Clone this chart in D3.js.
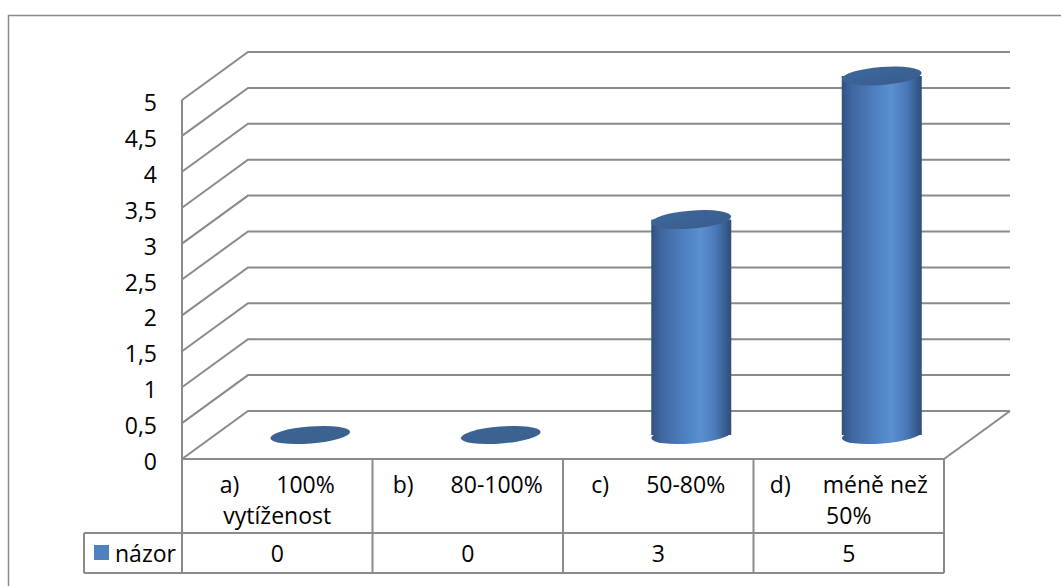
<!DOCTYPE html>
<html>
<head>
<meta charset="utf-8">
<script src="https://cdn.jsdelivr.net/npm/d3@7"></script>
<style>
  html, body { margin: 0; padding: 0; background: #fff; }
  svg { display: block; }
  text { font-family: "Open Sans", sans-serif; font-size: 23px; fill: #000; }
</style>
</head>
<body>
<svg id="chart" width="1061" height="586"></svg>
<script>
// Categories: the letter mark and the label lines shown in the data table header
const categoryMarks = ["a)", "b)", "c)", "d)"];
const categoryNames = [["100%", "vytíženost"], ["80-100%"], ["50-80%"], ["méně než", "50%"]];
const seriesName = "názor";
const values = [0, 0, 3, 5];
const yTicks = [0, 0.5, 1, 1.5, 2, 2.5, 3, 3.5, 4, 4.5, 5];
const yTickLabels = ["0", "0,5", "1", "1,5", "2", "2,5", "3", "3,5", "4", "4,5", "5"];

const svg = d3.select("#chart");

// Oblique projection of the floor/back wall
const depthX = 66, depthY = -48;
const gridColor = "#8a8a8a";

const y = d3.scaleLinear().domain([0, 5]).range([459, 100]);
const x = d3.scaleBand().domain(categoryMarks).range([182, 944]).padding(0);
const x0 = x.range()[0], x1 = x.range()[1];
const rowHeader = 533, rowValues = 573, legendLeft = 84;

// Gradients for the cylinders
const defs = svg.append("defs");
const bodyGrad = defs.append("linearGradient").attr("id", "cylBody")
  .attr("x1", "0").attr("x2", "1").attr("y1", "0").attr("y2", "0");
[[0, "#31527f"], [0.12, "#3f66a0"], [0.45, "#5083c4"], [0.62, "#5a8fd2"], [0.8, "#4b7aba"], [1, "#2e4d78"]]
  .forEach(([o, c]) => bodyGrad.append("stop").attr("offset", o).attr("stop-color", c));
const capGrad = defs.append("linearGradient").attr("id", "cylTop")
  .attr("x1", "0").attr("x2", "1").attr("y1", "0").attr("y2", "1");
[[0, "#3f679b"], [1, "#385d8d"]]
  .forEach(([o, c]) => capGrad.append("stop").attr("offset", o).attr("stop-color", c));

// Outer chart frame
svg.append("rect")
  .attr("x", 8.5).attr("y", 15.5).attr("width", 1100).attr("height", 620)
  .attr("fill", "none").attr("stroke", "#8a8a8a").attr("stroke-width", 1.5);

// Gridlines: side wall diagonal + back wall horizontal
const grid = svg.append("g").attr("fill", "none").attr("stroke", gridColor).attr("stroke-width", 2);
grid.selectAll("path.grid").data(yTicks).join("path")
  .attr("class", "grid")
  .attr("d", d => {
    const yy = y(d);
    return `M${x0},${yy}L${x0 + depthX},${yy + depthY}L${x1 + depthX},${yy + depthY}`;
  });
// Floor right edge and front vertical axis
grid.append("path").attr("d", `M${x1},${y(0)}L${x1 + depthX},${y(0) + depthY}`);
grid.append("path").attr("d", `M${x0},${y(5)}L${x0},${rowValues}`);

// Y tick labels
svg.append("g").selectAll("text").data(yTicks).join("text")
  .attr("x", 157).attr("y", d => y(d) + 11)
  .attr("text-anchor", "end")
  .text((d, i) => yTickLabels[i]);

// Cylinders
const rx = 40, ry = 8.5, tilt = -4.5;
const bars = svg.append("g").selectAll("g").data(values).join("g")
  .attr("transform", (d, i) => `translate(${x(categoryMarks[i]) + x.bandwidth() / 2 + depthX / 2},0)`);

bars.each(function (d) {
  const g = d3.select(this);
  const yb = y(0) + depthY / 2;
  const yt = y(d) + depthY / 2;
  if (d > 0) {
    g.append("ellipse").attr("cx", 0).attr("cy", yb).attr("rx", rx).attr("ry", ry)
      .attr("transform", `rotate(${tilt},0,${yb})`).attr("fill", "url(#cylBody)");
    g.append("rect").attr("x", -rx).attr("y", yt).attr("width", 2 * rx).attr("height", yb - yt)
      .attr("fill", "url(#cylBody)");
    g.append("ellipse").attr("cx", 0).attr("cy", yt).attr("rx", rx).attr("ry", ry + 0.5)
      .attr("transform", `rotate(${tilt},0,${yt})`).attr("fill", "url(#cylTop)");
  } else {
    g.append("ellipse").attr("cx", 0).attr("cy", yt).attr("rx", rx).attr("ry", ry)
      .attr("transform", `rotate(${tilt},0,${yt})`).attr("fill", "#3b6291");
  }
});

// Data table
const table = svg.append("g").attr("fill", "none").attr("stroke", gridColor).attr("stroke-width", 2);
table.append("path").attr("d", `M${x0},${y(0)}H${x1}`);
table.append("path").attr("d", `M${legendLeft},${rowHeader}H${x1}`);
table.append("path").attr("d", `M${legendLeft},${rowValues}H${x1}`);
table.append("path").attr("d", `M${legendLeft},${rowHeader}V${rowValues}`);
table.selectAll("path.col").data(categoryMarks).join("path")
  .attr("class", "col")
  .attr("d", d => `M${x(d) + x.bandwidth()},${y(0)}V${rowValues}`);

// Header labels
const header = svg.append("g");
categoryMarks.forEach((m, i) => {
  const cx = x(m) + x.bandwidth() / 2;
  const names = categoryNames[i];
  const gap = i === 3 ? 32 : 37;
  const t1 = header.append("text").attr("x", cx).attr("y", 493).attr("text-anchor", "middle");
  t1.append("tspan").text(m);
  t1.append("tspan").attr("dx", gap).text(names[0]);
  if (names[1]) {
    header.append("text").attr("x", cx).attr("y", 524).attr("text-anchor", "middle").text(names[1]);
  }
});

// Value row
svg.append("g").selectAll("text").data(values).join("text")
  .attr("x", (d, i) => x(categoryMarks[i]) + x.bandwidth() / 2)
  .attr("y", 562)
  .attr("text-anchor", "middle")
  .text(d => d);

// Legend key in the table
svg.append("rect").attr("x", 94).attr("y", 545).attr("width", 15).attr("height", 15).attr("fill", "#4f81bd");
svg.append("text").attr("x", 115).attr("y", 562).text(seriesName);
</script>
</body>
</html>
